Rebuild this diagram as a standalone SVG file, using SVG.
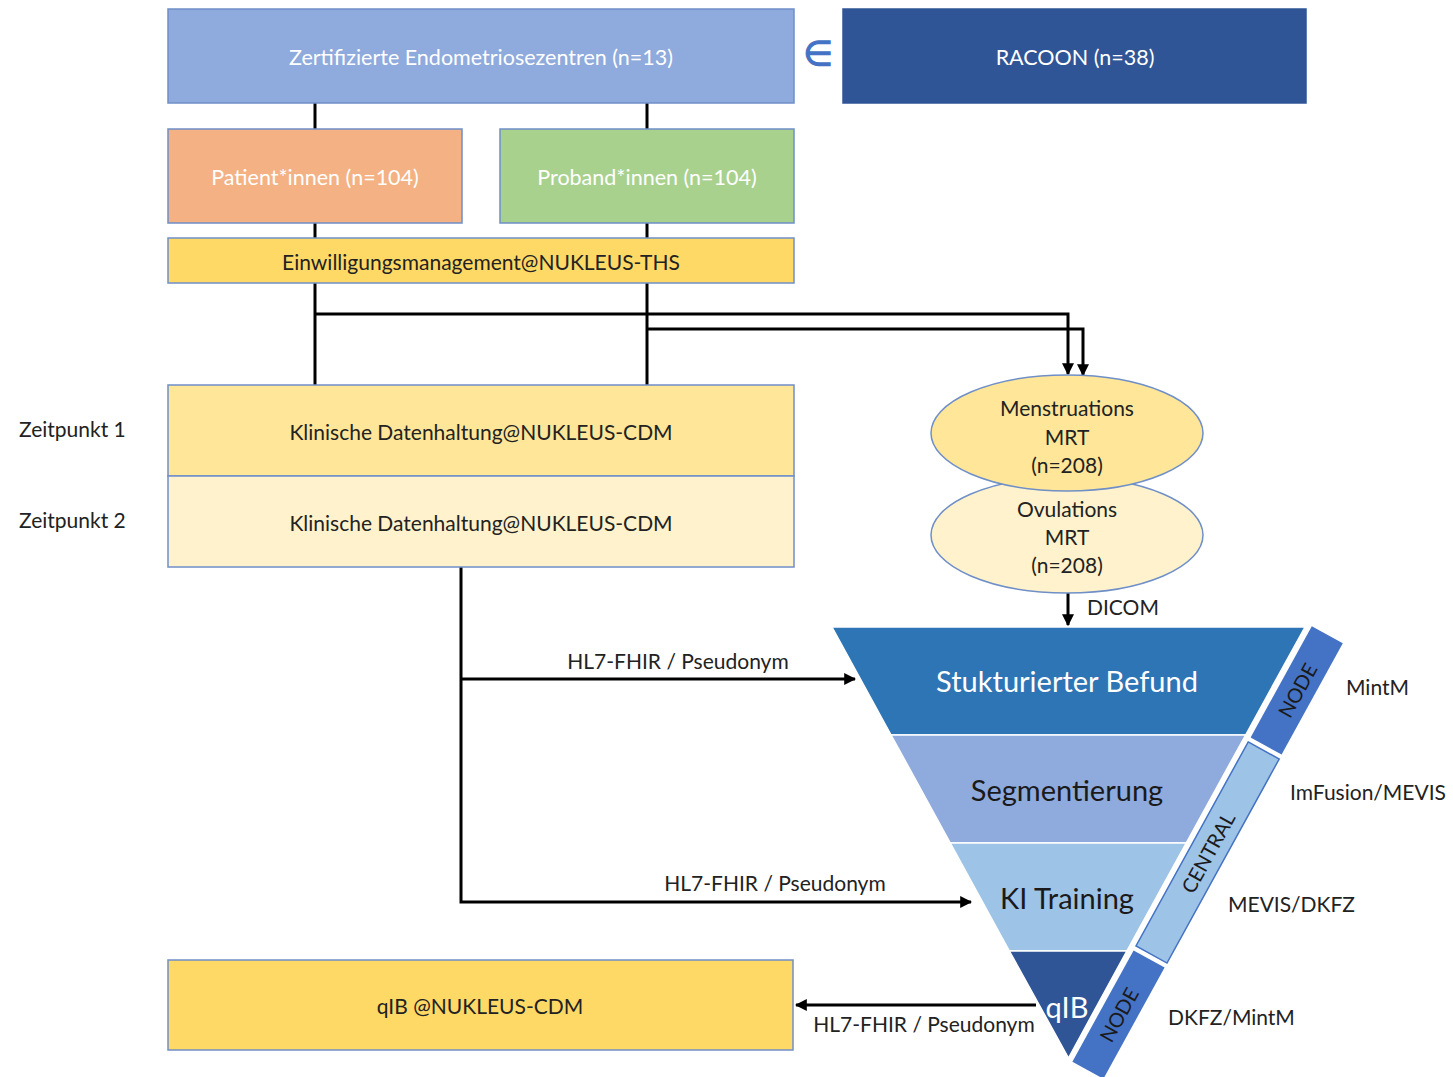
<svg xmlns="http://www.w3.org/2000/svg" width="1453" height="1077" viewBox="0 0 1453 1077">
<defs>
<style>
text{font-family:Lato,"Liberation Sans",sans-serif;}
.box{stroke:#6f8fc7;stroke-width:1.5;}
.w{fill:#ffffff;font-size:21.5px;text-anchor:middle;dominant-baseline:central;}
.d{fill:#222222;font-size:21px;text-anchor:middle;dominant-baseline:central;}
.lbl{fill:#222222;font-size:21px;}
.ln{stroke:#000;stroke-width:3;fill:none;}
.big{font-size:29px;text-anchor:middle;dominant-baseline:central;}
.strip{font-size:20px;text-anchor:middle;dominant-baseline:central;}
</style>
<marker id="ah" viewBox="0 0 10 10" refX="9" refY="5" markerWidth="4" markerHeight="4" orient="auto" markerUnits="strokeWidth">
<path d="M0,0 L10,5 L0,10 z" fill="#000"/>
</marker>
</defs>
<rect width="1453" height="1077" fill="#ffffff"/>

<g id="connectors">
<line class="ln" x1="315" y1="103" x2="315" y2="129"/>
<line class="ln" x1="647" y1="103" x2="647" y2="129"/>
<line class="ln" x1="315" y1="223" x2="315" y2="238"/>
<line class="ln" x1="647" y1="223" x2="647" y2="238"/>
<line class="ln" x1="315" y1="283" x2="315" y2="385"/>
<line class="ln" x1="647" y1="283" x2="647" y2="385"/>
<path class="ln" d="M315,314 H1068 V374" marker-end="url(#ah)"/>
<path class="ln" d="M647,329 H1083 V375" marker-end="url(#ah)"/>
<path class="ln" d="M1068,593 V625" marker-end="url(#ah)"/>
<path class="ln" d="M461,567 V902 H971" marker-end="url(#ah)"/>
<path class="ln" d="M461,679 H855" marker-end="url(#ah)"/>
<path class="ln" d="M1036,1005 H796" marker-end="url(#ah)"/>
<text class="lbl" x="1087" y="615">DICOM</text>
<text class="lbl" x="678" y="669" text-anchor="middle">HL7-FHIR / Pseudonym</text>
<text class="lbl" x="775" y="891" text-anchor="middle">HL7-FHIR / Pseudonym</text>
<text class="lbl" x="924" y="1032" text-anchor="middle">HL7-FHIR / Pseudonym</text>
</g>

<g id="zentren">
<rect class="box" x="168" y="9" width="626" height="94" fill="#8faadc"/>
<text class="w" x="481" y="57">Zertifizierte Endometriosezentren (n=13)</text>
</g>
<g id="element">
<text x="818" y="53" fill="#4472c4" stroke="#4472c4" stroke-width="1.2" font-size="34" text-anchor="middle" dominant-baseline="central" style="font-family:'DejaVu Sans',sans-serif">∈</text>
</g>
<g id="racoon">
<rect x="843" y="9" width="463" height="94" fill="#2f5597" stroke="#2f5597" stroke-width="1.5"/>
<text class="w" x="1075" y="57">RACOON (n=38)</text>
</g>
<g id="patient">
<rect class="box" x="168" y="129" width="294" height="94" fill="#f4b183"/>
<text class="w" x="315" y="177">Patient*innen (n=104)</text>
</g>
<g id="proband">
<rect class="box" x="500" y="129" width="294" height="94" fill="#a9d18e"/>
<text class="w" x="647" y="177">Proband*innen (n=104)</text>
</g>
<g id="einwilligung">
<rect class="box" x="168" y="238" width="626" height="45" fill="#ffd966"/>
<text class="d" x="481" y="261">Einwilligungsmanagement@NUKLEUS-THS</text>
</g>
<g id="klinisch1">
<rect class="box" x="168" y="385" width="626" height="91" fill="#ffe699"/>
<text class="d" x="481" y="431">Klinische Datenhaltung@NUKLEUS-CDM</text>
</g>
<g id="klinisch2">
<rect class="box" x="168" y="476" width="626" height="91" fill="#fff2cc"/>
<text class="d" x="481" y="522">Klinische Datenhaltung@NUKLEUS-CDM</text>
</g>
<g id="zeitpunkte">
<text class="lbl" x="19" y="437" font-size="22">Zeitpunkt 1</text>
<text class="lbl" x="19" y="528" font-size="22">Zeitpunkt 2</text>
</g>
<g id="ovulation">
<ellipse cx="1067" cy="535" rx="136" ry="58" fill="#fff2cc" stroke="#6f8fc7" stroke-width="1.5"/>
<text class="d" x="1067" y="508">Ovulations</text>
<text class="d" x="1067" y="536">MRT</text>
<text class="d" x="1067" y="564">(n=208)</text>
</g>
<g id="menstruation">
<ellipse cx="1067" cy="433" rx="136" ry="58" fill="#ffe699" stroke="#6f8fc7" stroke-width="1.5"/>
<text class="d" x="1067" y="407">Menstruations</text>
<text class="d" x="1067" y="436">MRT</text>
<text class="d" x="1067" y="464">(n=208)</text>
</g>
<g id="qib-box">
<rect class="box" x="168" y="960" width="625" height="90" fill="#ffd966"/>
<text class="d" x="480" y="1005">qIB @NUKLEUS-CDM</text>
</g>

<g id="funnel" stroke="#ffffff" stroke-width="1.5">
<g id="befund">
<polygon points="832,627 1305,627 1245.6,735 891.1,735" fill="#2e75b6"/>
<text class="big" x="1067" y="680" fill="#ffffff" stroke="none">Stukturierter Befund</text>
</g>
<g id="segmentierung">
<polygon points="891.1,735 1245.6,735 1186.2,843 950.3,843" fill="#8faadc"/>
<text class="big" x="1067" y="789" fill="#1a1a1a" stroke="none">Segmentierung</text>
</g>
<g id="training">
<polygon points="950.3,843 1186.2,843 1126.8,951 1009.4,951" fill="#9dc3e6"/>
<text class="big" x="1067" y="897" fill="#1a1a1a" stroke="none">KI Training</text>
</g>
<g id="qib">
<polygon points="1009.4,951 1126.8,951 1068.5,1058" fill="#2f5597"/>
<text class="big" x="1067" y="1006" fill="#ffffff" stroke="none" font-size="26">qIB</text>
</g>
</g>

<g id="strips">
<g id="node1">
<polygon points="1311.8,626.2 1342.8,643.3 1281.6,754.6 1250.6,737.5" fill="#4472c4"/>
<text class="strip" x="1297" y="690" fill="#1a1a1a" transform="rotate(-61.2 1297 690)">NODE</text>
</g>
<g id="central">
<polygon points="1248.2,741.9 1279.2,759 1167,963.1 1136,946" fill="#9dc3e6" stroke="#4472c4" stroke-width="1.5"/>
<text class="strip" x="1207.6" y="852.4" fill="#1a1a1a" transform="rotate(-61.2 1207.6 852.4)">CENTRAL</text>
</g>
<g id="node2">
<polygon points="1133.6,950.4 1164.6,967.5 1103.4,1078.8 1072.4,1061.7" fill="#4472c4"/>
<text class="strip" x="1118.5" y="1014.5" fill="#1a1a1a" transform="rotate(-61.2 1118.5 1014.5)">NODE</text>
</g>
</g>

<g id="sites">
<text class="lbl" x="1346" y="695">MintM</text>
<text class="lbl" x="1290" y="800">ImFusion/MEVIS</text>
<text class="lbl" x="1228" y="912">MEVIS/DKFZ</text>
<text class="lbl" x="1168" y="1025">DKFZ/MintM</text>
</g>
</svg>
